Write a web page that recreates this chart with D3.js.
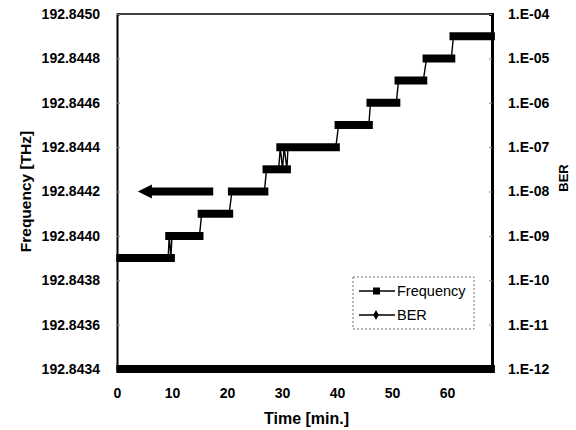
<!DOCTYPE html>
<html>
<head>
<meta charset="utf-8">
<script src="https://cdn.jsdelivr.net/npm/d3@7"></script>
<style>
  body { margin: 0; background: #fff; }
  #chart { width: 576px; height: 430px; }
  text { font-family: "Liberation Sans", Arial, sans-serif; fill: #000; }
</style>
</head>
<body>
<div id="chart"></div>
<script>
// Frequency drift and BER against time

// Frequency readings (time in min, frequency in THz)
const freqTime = [0.6, 9.3, 9.5, 9.8, 10.0, 15.0, 15.4, 20.4, 20.9, 26.8, 27.2, 29.4, 29.7, 30.1,
                  30.4, 30.9, 31.1, 39.8, 40.3, 45.8, 46.1, 50.8, 51.2, 55.7, 56.3, 60.8, 61.2, 68.0];
const freqValue = [192.8439, 192.8439, 192.8440, 192.8439, 192.8440, 192.8440, 192.8441, 192.8441,
                   192.8442, 192.8442, 192.8443, 192.8443, 192.8444, 192.8443, 192.8444, 192.8443,
                   192.8444, 192.8444, 192.8445, 192.8445, 192.8446, 192.8446, 192.8447, 192.8447,
                   192.8448, 192.8448, 192.8449, 192.8449];

// BER readings (floor of the measurement)
const berTime = [0.6, 10, 20, 30, 40, 50, 60, 68.0];
const berValue = [1e-12, 1e-12, 1e-12, 1e-12, 1e-12, 1e-12, 1e-12, 1e-12];

// Tick labels
const timeTicks = [0, 10, 20, 30, 40, 50, 60];
const freqTicks = [192.8434, 192.8436, 192.8438, 192.8440, 192.8442, 192.8444, 192.8446, 192.8448, 192.8450];
const berTicks = [1e-12, 1e-11, 1e-10, 1e-9, 1e-8, 1e-7, 1e-6, 1e-5, 1e-4];

const legendLabels = ["Frequency", "BER"];

function drawChart(div) {
    let cvs = d3.select(div);
    cvs.html(null);

    let width = 576, height = 430;
    let margin = { top: 14, right: 84, bottom: 61, left: 117 };

    let svg = cvs.append("svg")
        .attr("width", width)
        .attr("height", height);

    let x = d3.scaleLinear()
        .domain([0, 68.2])
        .range([margin.left, width - margin.right]);
    let yF = d3.scaleLinear()
        .domain([192.8434, 192.8450])
        .range([height - margin.bottom, margin.top]);
    let yB = d3.scaleLog()
        .domain([1e-12, 1e-4])
        .range([height - margin.bottom, margin.top]);

    // Top border
    svg.append("line")
        .attr("x1", x(0)).attr("x2", x(68.2))
        .attr("y1", yF(192.8450)).attr("y2", yF(192.8450))
        .attr("stroke", "#000").attr("stroke-width", 1.5);

    // Left axis
    let gl = svg.append("g")
        .attr("transform", "translate(" + x(0) + ",0)")
        .call(d3.axisLeft(yF).tickValues(freqTicks).tickFormat(d3.format(".4f"))
            .tickSize(-3).tickPadding(17));
    gl.select(".domain").attr("stroke-width", 2);
    gl.selectAll(".tick line").attr("stroke", "#888");
    gl.selectAll("text").style("font-size", "14px").style("font-weight", "bold");

    // Right axis
    let gr = svg.append("g")
        .attr("transform", "translate(" + x(68.2) + ",0)")
        .call(d3.axisRight(yB).tickValues(berTicks)
            .tickFormat(d => "1.E-" + d3.format("02d")(Math.round(-Math.log10(d))))
            .tickSize(-3).tickPadding(16));
    gr.select(".domain").attr("stroke-width", 3);
    gr.selectAll(".tick line").attr("stroke", "#888");
    gr.selectAll("text").style("font-size", "14px").style("font-weight", "bold");

    // Bottom axis
    let gb = svg.append("g")
        .attr("transform", "translate(0," + yF(192.8434) + ")")
        .call(d3.axisBottom(x).tickValues(timeTicks).tickSize(0).tickPadding(19));
    gb.select(".domain").attr("stroke-width", 2);
    gb.selectAll("text").style("font-size", "14px").style("font-weight", "bold");

    // Axis titles
    svg.append("text").text("Time [min.]")
        .attr("x", (x(0) + x(68.2)) / 2 + 2).attr("y", 424)
        .attr("text-anchor", "middle")
        .style("font-size", "16px").style("font-weight", "bold");
    svg.append("text").text("Frequency [THz]")
        .attr("transform", "translate(31," + (yF(192.8442)) + ") rotate(-90)")
        .attr("text-anchor", "middle")
        .style("font-size", "15.5px").style("font-weight", "bold");
    svg.append("text").text("BER")
        .attr("transform", "translate(568,178) rotate(-90)")
        .attr("text-anchor", "middle")
        .style("font-size", "13px").style("font-weight", "bold");

    // Frequency: thin line through every reading
    let pts = freqTime.map((t, i) => [t, freqValue[i]]);
    svg.append("path")
        .datum(pts)
        .attr("fill", "none")
        .attr("stroke", "#000")
        .attr("stroke-width", 1.4)
        .attr("d", d3.line().x(d => x(d[0])).y(d => yF(d[1])));

    // Frequency: dense square markers make a thick bar on each level
    let levels = d3.groups(pts, d => d[1]);
    levels.forEach(([v, p]) => {
        let t0 = d3.min(p, d => d[0]), t1 = d3.max(p, d => d[0]);
        svg.append("line")
            .attr("x1", x(t0)).attr("x2", x(t1))
            .attr("y1", yF(v)).attr("y2", yF(v))
            .attr("stroke", "#000")
            .attr("stroke-width", 8)
            .attr("stroke-linecap", "square");
    });

    // BER: dense diamond markers along the floor
    svg.append("line")
        .attr("x1", x(d3.min(berTime))).attr("x2", x(d3.max(berTime)))
        .attr("y1", yB(berValue[0])).attr("y2", yB(berValue[berValue.length - 1]))
        .attr("stroke", "#000")
        .attr("stroke-width", 8)
        .attr("stroke-linecap", "square");

    // Arrow pointing to the left axis
    let ax0 = x(3.8), ax1 = x(17.5), ay = yF(192.8442);
    svg.append("path")
        .attr("d", "M" + ax0 + "," + ay +
            " L" + (ax0 + 14) + "," + (ay - 7) +
            " L" + (ax0 + 14) + "," + (ay - 4) +
            " L" + ax1 + "," + (ay - 4) +
            " L" + ax1 + "," + (ay + 4) +
            " L" + (ax0 + 14) + "," + (ay + 4) +
            " L" + (ax0 + 14) + "," + (ay + 7) + " Z")
        .attr("fill", "#000");

    // Legend
    let lx = 353, ly = 277;
    svg.append("rect")
        .attr("x", lx).attr("y", ly)
        .attr("width", 121).attr("height", 52)
        .attr("fill", "#fff")
        .attr("stroke", "#777")
        .attr("stroke-width", 1)
        .attr("stroke-dasharray", "2,2");
    for (let i = 0; i < legendLabels.length; ++i) {
        let yy = ly + 14 + i * 24;
        svg.append("line")
            .attr("x1", lx + 6).attr("x2", lx + 42)
            .attr("y1", yy).attr("y2", yy)
            .attr("stroke", "#000").attr("stroke-width", 1.4);
        if (i == 0) {
            svg.append("rect")
                .attr("x", lx + 20).attr("y", yy - 3.5)
                .attr("width", 7).attr("height", 7)
                .attr("fill", "#000");
        } else {
            svg.append("path")
                .attr("d", d3.symbol().type(d3.symbolDiamond).size(28))
                .attr("transform", "translate(" + (lx + 23) + "," + yy + ")")
                .attr("fill", "#000");
        }
        svg.append("text").text(legendLabels[i])
            .attr("x", lx + 44).attr("y", yy + 5)
            .style("font-size", "14.5px");
    }
}

drawChart("#chart");
</script>
</body>
</html>
